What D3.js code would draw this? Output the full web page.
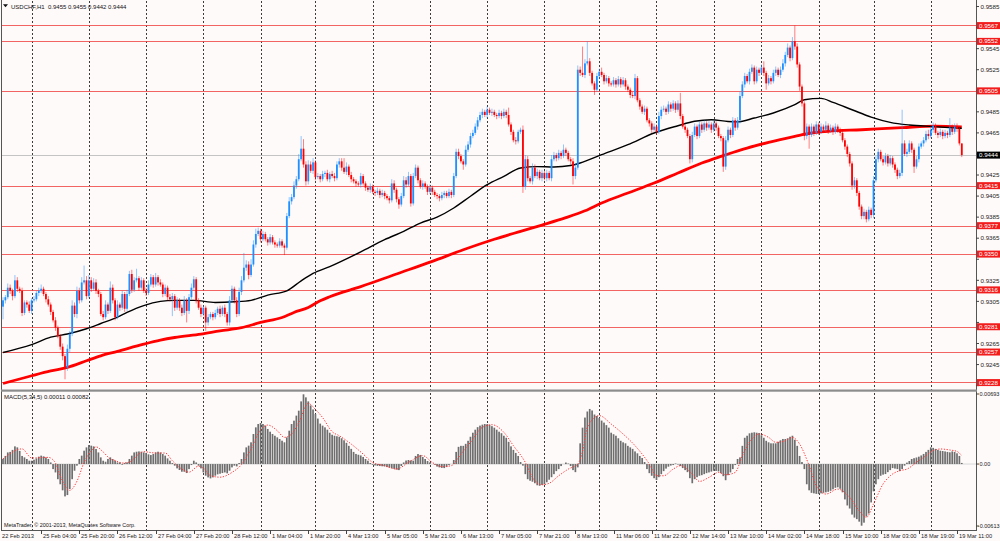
<!DOCTYPE html>
<html><head><meta charset="utf-8">
<script src="https://cdn.jsdelivr.net/npm/d3@7"></script>
<style>html,body{margin:0;padding:0;background:#FFFAFA;} svg{display:block} text{white-space:pre}</style>
</head><body><svg id="c" width="1000" height="541"></svg>
<script>
// ---------- DATA (prices in pips above 0.9000) ----------
const symbolTitle = "USDCHF,H1  0.9455 0.9455 0.9442 0.9444";
const macdTitle = "MACD(5,34,5) 0.00011 0.00082";
const copyright = "MetaTrader, \u00A9 2001-2013, MetaQuotes Software Corp.";
const firstOpen = 300;
const closes = [
306,309,318,315,310,325,317,315,294,304,302,296,306,307,313,315,317,312,307,302,
295,287,280,272,262,253,242,260,274,301,293,315,306,323,325,310,325,317,323,315,
312,293,290,302,296,318,306,290,302,299,312,298,312,331,316,325,327,318,325,315,
313,321,328,321,328,323,321,312,318,309,307,310,299,306,299,294,306,296,309,318,
326,306,299,293,299,285,290,293,290,294,298,293,299,293,285,306,317,306,293,314,
325,337,340,330,340,359,369,372,364,369,364,361,366,361,359,358,362,358,356,386,
400,404,415,421,440,450,435,419,435,429,437,423,424,421,426,427,421,426,424,422,
435,438,432,428,433,425,421,419,417,416,424,417,413,411,414,409,408,410,406,408,
405,403,401,417,411,402,397,405,420,416,424,398,424,432,420,414,417,414,409,413,
409,406,405,403,406,408,405,409,406,424,447,443,438,435,449,454,462,465,471,477,
482,485,482,487,484,485,482,481,484,481,485,482,473,466,458,457,466,468,414,440,
422,419,432,424,428,422,427,422,427,422,440,444,441,446,443,449,446,440,438,424,
432,525,522,520,531,533,522,512,506,519,523,520,514,517,512,511,515,511,516,511,
515,509,506,501,500,517,496,490,485,488,477,474,468,471,466,481,487,488,485,492,
488,493,487,493,481,471,468,462,440,463,471,462,473,468,474,470,473,468,474,470,
462,460,433,458,468,463,477,470,477,500,511,519,514,523,527,514,525,522,527,522,
512,517,514,522,525,520,525,531,539,546,536,552,547,530,509,493,462,471,463,471,
465,473,466,471,468,472,467,470,466,471,468,465,458,452,445,436,415,420,408,395,
386,390,383,392,387,420,440,447,440,437,443,436,441,435,430,424,427,455,445,447,
455,449,433,440,452,455,458,464,462,468,472,465,463,466,462,465,463,470,466,471,
469,455,444];
const upWick = [
3,2,4,3,2,5,3,2,3,2,2,3,2,3,2,3,4,2,2,3,
2,2,3,2,2,3,2,4,3,5,3,4,3,5,14,4,5,3,4,3,
2,2,3,4,2,6,3,2,4,2,3,2,4,3,4,3,9,2,3,2,
3,4,3,2,4,2,3,2,3,2,3,3,2,3,2,3,4,2,3,4,
3,2,2,3,2,2,3,2,2,3,2,3,2,3,2,4,3,2,3,4,
4,14,4,3,5,4,5,3,2,3,2,2,3,2,2,2,3,2,2,3,
4,3,4,3,5,12,9,3,4,3,4,2,3,2,3,2,3,2,3,3,
3,3,3,9,4,2,3,2,2,2,3,2,2,2,3,2,2,3,2,3,
2,2,2,4,3,2,2,3,4,3,4,2,3,3,2,2,3,2,2,3,
2,2,2,2,3,2,2,3,2,3,3,3,2,2,4,3,3,3,3,3,
3,3,2,3,2,3,2,2,3,2,3,2,7,2,2,3,2,2,4,4,
3,2,4,3,3,2,3,2,3,2,4,3,2,3,2,5,2,2,2,3,
4,4,3,25,4,19,3,2,2,3,3,4,2,3,2,2,3,2,3,2,
3,2,2,2,3,4,2,2,2,3,2,2,2,3,2,4,3,3,2,3,
2,3,2,3,10,2,2,2,2,3,3,2,3,2,3,2,3,2,3,2,
2,2,2,4,3,2,3,2,3,4,3,3,2,3,3,2,3,2,3,6,
2,3,2,3,3,2,3,4,3,4,2,4,15,3,2,2,2,3,2,3,
2,3,2,3,2,4,2,3,2,3,2,2,2,2,2,2,2,3,2,2,
2,3,2,3,2,4,3,3,2,3,3,2,3,2,2,2,3,32,3,3,
3,2,2,3,3,2,3,3,4,3,3,2,2,3,2,3,2,9,3,3,
3,2,0];
const dnWick = [
12,3,2,3,4,2,3,2,3,2,3,2,3,2,2,3,2,2,3,2,
3,2,3,2,3,4,11,3,3,2,3,4,3,2,2,3,2,3,2,3,
3,2,3,2,3,2,3,3,2,3,2,3,2,2,3,2,2,3,2,2,
3,2,2,3,2,3,2,3,2,3,2,16,3,2,3,3,2,11,3,2,
2,3,2,3,2,8,3,2,3,2,2,3,2,3,3,3,2,3,3,2,
3,2,3,4,2,2,3,2,3,2,2,3,2,2,3,2,2,2,7,2,
2,3,2,3,2,2,3,4,3,2,3,3,2,3,2,3,2,3,2,3,
2,3,3,2,3,2,3,2,3,2,3,2,3,2,3,2,3,2,3,2,
3,2,3,2,3,3,4,2,2,3,2,3,2,2,3,2,3,2,3,2,
3,2,3,3,2,3,2,2,3,2,2,3,2,5,2,2,3,2,2,3,
2,3,2,3,2,3,2,3,2,3,2,3,2,3,2,3,2,2,6,3,
3,2,3,2,3,2,3,2,3,2,3,2,3,2,3,2,3,2,3,8,
3,2,3,2,3,2,3,2,5,2,3,2,3,2,3,2,2,3,2,3,
2,3,2,3,2,3,2,3,2,3,2,3,3,2,3,2,3,2,3,2,
3,2,3,2,3,2,3,2,4,3,2,3,2,3,2,3,2,3,2,3,
2,3,5,3,2,3,2,3,2,3,2,3,2,3,2,3,2,3,2,3,
6,2,3,2,3,2,3,2,3,2,3,2,3,3,4,3,4,3,13,2,
3,2,3,2,3,2,3,2,3,2,3,3,2,3,3,3,4,3,3,3,
3,3,3,2,3,3,2,3,2,3,2,3,2,3,3,3,2,3,2,3,
2,3,6,2,3,2,3,2,3,2,3,2,3,2,3,2,3,2,3,2,
3,2,2];
// moving averages: [bar, pips]
const blackMA = [[0,256.5],[12,264],[20,271],[27,274],[35,279],[41,284],[48,290],[52,294.5],[59,301],[66,305],[72,306],[80,306],[89,304],[97,304.6],[104,306],[111,311],[119,315],[125,324.5],[130,331.5],[137,338],[150,352],[160,363.6],[168,371.5],[175,379.4],[182,385],[189,393.7],[196,404.8],[203,415.8],[210,423.7],[217,431.7],[224,433],[231,432.6],[238,434],[242,436.4],[251,444.3],[262,453.8],[273,464.9],[283,471.8],[290,476],[297,477.5],[304,475.8],[308,475.5],[315,479.1],[323,483.9],[332,491.8],[336,496.5],[343,497.8],[348,494],[356,487],[364,480],[372,475],[380,472.5],[390,471],[402,469.3]];
const redMA = [[0,227],[12,234.4],[20,239],[27,242.3],[35,248.6],[41,253.3],[48,257.5],[59,264.4],[66,268.2],[72,270.7],[83,274],[91,277],[100,280],[108,285],[117,289.7],[122,294.5],[128,299.2],[133,305.6],[137,309.4],[150,319],[165,331],[180,343],[193,354],[206,364],[217,371.5],[226,377.5],[236,384.5],[244,391],[251,398.4],[262,407.9],[273,417.4],[283,426.9],[293,436.4],[301,442.7],[306,446.4],[312,450.6],[321,456],[332,461.7],[339,465],[346,466.5],[360,468],[377,470],[391,471.5],[402,470.8]];
// MACD main (histogram) in units of 0.0001
const macdHist = [
5,8,11.5,12,14,17.5,16.5,13,8,6.6,5,3.3,3.3,4.3,5.6,7.3,8.3,7.6,6.6,5,
1.6,-5,-8.3,-15,-20,-26,-32,-30.7,-24.7,-15,-6.6,-1.6,5,8.3,13.2,16.5,18.8,18.2,17.5,14.9,
11.5,6.6,3.3,2.3,5,6.6,5,3.3,1.6,1.6,-0.7,1,1.6,5,8.3,11.5,12.2,12.5,12.2,11.5,
10.9,9.6,8.9,9.9,11.5,12.2,11.5,9.9,8.3,5.6,3.3,1,-1.6,-4.3,-5.9,-7.6,-7.6,-8.9,-5,-1,
3.3,1.6,-1.6,-4.3,-8.3,-11.5,-13.2,-14.2,-13.2,-11.5,-10.2,-9.6,-8.9,-8.3,-9.2,-6.6,-3.3,-1.6,-2.3,1,
5,11.5,16.5,18.2,21.5,29.7,36.3,39.6,40.6,39.6,38,34.7,32,29.7,28,26.4,24.8,23.1,21.5,26.4,
33,39.6,42.9,47.9,52.8,62,69,66,62,58,54,49.5,45,40,38,36.3,34,31,29,28,
27.5,27,25.5,23.5,21,18,15,12,10,9.2,8.5,7,5,3.3,1,-0.7,-1.4,-1.8,-2,-2.2,
-2.4,-3,-3.5,-4,-4.8,-5.5,-6,-2,1.6,3.5,4,3.6,3.3,8,9.9,9,7,5,3,1.6,
0,-0.7,-2.5,-3.3,-3.8,-4,-3,-1,0,4,12,17,18,18,20,23,27,31,34,36.5,
38,39,39.6,39.5,38.9,37.5,36,34,32,30.5,28,26,22,17.5,14,11,8,2,-1.6,-10,
-15,-16.5,-17.5,-19,-21,-21.5,-20.7,-20,-18,-15.5,-13,-10,-7,-5,-2,0,1.5,0.5,-2,-6,
-8,-3.3,20.5,36,46,52,54.5,53,49,47.5,45.5,43,41,38.5,36,31,29.5,28,25.5,23,
21.5,20.5,18,16.5,15,12.5,10.6,8,6,2,-5,-9,-11.6,-14,-15.8,-13,-10,-7,-4.5,-2.6,
-1.5,-1,0.5,-0.5,-2,-4,-6,-8,-14,-19,-15,-13,-11.6,-11,-10,-9,-8.3,-7.5,-6.6,-6.8,
-7.3,-9,-12,-16,-11,-8.3,-5,-1,5,6.6,18,26,28,30.4,31,31.4,31,30.7,28.5,26,
23,21.5,20.5,20.5,20.5,22,23.5,24.8,24.8,25.5,27,28,24,18,8,2,-5,-20,-26,-28.5,
-29,-29.5,-29.7,-29,-28.5,-28,-27.5,-26.5,-25,-23.5,-23,-24.5,-28,-35,-41,-44,-50,-53,-54.5,-57,
-61,-58,-52,-49,-38,-27,-20,-15,-11.6,-10.5,-9.9,-8,-6,-4,-4.5,-5,-7,-5,-1.6,1.4,
3,5,5.8,6.5,7.3,8.5,10,12,14,16.5,16,15,14,13.2,12.9,12.5,12,11.6,12.5,12,
10.6,8,1.1];
// MACD signal read at [bar, value*1e4]
const macdSignal = [[0,5],[8,15],[12,6],[19,6.6],[22,1],[24,-11.6],[28,-26],[31,-17],[34,1.6],[37,13],[39,17],[42,12],[45,5],[47,3.5],[50,1],[53,2],[57,9.9],[59,12.2],[64,10.9],[68,10.9],[71,3.3],[75,-5],[78,-8],[82,-2],[84,-4],[87,-11.5],[91,-13],[96,-8.3],[100,-0.5],[104,14.9],[108,34],[111,38.6],[115,33],[118,26.4],[121,29.7],[124,41],[128,60],[131,54],[134,46],[138,32],[141,28],[146,19.8],[151,9.9],[155,1.6],[160,-1.6],[165,-5],[170,1.6],[176,8.3],[180,1.6],[184,-2.6],[188,-1.6],[192,9.9],[196,21.5],[201,36.3],[205,38.9],[210,31.4],[214,18.2],[219,1.6],[222,-13.2],[226,-20.5],[229,-19],[233,-11.6],[237,-5],[241,0],[243,12.5],[245,36.3],[250,47.9],[255,39.6],[260,29.7],[265,18.2],[271,0],[274,-11.6],[277,-11.6],[281,-5],[284,-1.6],[289,-9.9],[292,-17.2],[296,-13.2],[300,-8.3],[303,-10.6],[307,-8.3],[310,8.3],[314,24.8],[317,29.7],[321,26.4],[324,21.5],[328,23],[331,26.4],[334,19.8],[338,-1.6],[341,-21.5],[345,-29.7],[350,-24.8],[355,-33],[359,-46.2],[362,-52.8],[365,-39.6],[369,-19.8],[372,-11.6],[376,-6.6],[379,-5],[383,1.6],[386,6.6],[390,13.2],[393,14.9],[397,13.9],[400,12.5],[402,8.2]];
const levels = [567,552,505,415,377,350,316,281,257,228];
const currentPrice = 444;
const priceTicks = ["0.9585","0.9565","0.9545","0.9525","0.9505","0.9485","0.9465","0.9445","0.9425","0.9405","0.9385","0.9365","0.9345","0.9325","0.9305","0.9285","0.9265","0.9245","0.9225"];
const macdTicks = [["0.00693",0.00693],["0.00",0],["-0.00613",-0.00613]];
const dateLabels = ["22 Feb 2013","25 Feb 04:00","25 Feb 20:00","26 Feb 12:00","27 Feb 04:00","27 Feb 20:00","28 Feb 12:00","1 Mar 04:00","1 Mar 20:00","4 Mar 13:00","5 Mar 05:00","5 Mar 21:00","6 Mar 13:00","7 Mar 05:00","7 Mar 21:00","8 Mar 13:00","11 Mar 06:00","11 Mar 22:00","12 Mar 14:00","13 Mar 10:00","14 Mar 02:00","14 Mar 18:00","15 Mar 10:00","18 Mar 03:00","18 Mar 19:00","19 Mar 11:00"];
const labelEvery = 16;
const gridBars = [12,36,60,84,108,131,155,179,203,227,250,274,298,318,342,365,389];

// ---------- DRAW ----------
const FONT = "'Liberation Sans', Arial, sans-serif";
const svg = d3.select("#c");
const pip = v => 0.9 + v/10000;
const x = d3.scaleLinear().domain([0,400]).range([3,957]);
const y = d3.scaleLinear().domain([0.92218,0.95893]).range([389,2]);
const yM = d3.scaleLinear().domain([-0.00613,0.00693]).range([526,394]);
const AX = 976, BOT = 530;

svg.append("rect").attr("width",1000).attr("height",541).attr("fill","#FFFAFA");
const defs = svg.append("defs");
defs.append("clipPath").attr("id","cm").append("rect").attr("x",2).attr("y",1).attr("width",AX-2).attr("height",388);
defs.append("clipPath").attr("id","cd").append("rect").attr("x",2).attr("y",392).attr("width",AX-2).attr("height",BOT-392);

// vertical grid
svg.append("g").selectAll("line").data(gridBars).join("line")
  .attr("x1",d=>Math.round(x(d))+0.5).attr("x2",d=>Math.round(x(d))+0.5)
  .attr("y1",1).attr("y2",BOT)
  .attr("stroke","#3c3c3c").attr("stroke-width",1).attr("stroke-dasharray","2,2");

const main = svg.append("g").attr("clip-path","url(#cm)");
// levels
main.selectAll("line.lv").data(levels).join("line").attr("class","lv")
  .attr("x1",2).attr("x2",AX).attr("y1",d=>Math.round(y(pip(d)))+0.5).attr("y2",d=>Math.round(y(pip(d)))+0.5)
  .attr("stroke","#f04a4a").attr("stroke-width",1).attr("opacity",0.85);
main.append("line").attr("x1",2).attr("x2",AX)
  .attr("y1",Math.round(y(pip(currentPrice)))+0.5).attr("y2",Math.round(y(pip(currentPrice)))+0.5)
  .attr("stroke","#c4c4c4").attr("stroke-width",1);

// MAs
const maLine = d3.line().x(d=>x(d[0])).y(d=>y(pip(d[1]))).curve(d3.curveMonotoneX);
main.append("path").attr("d",maLine(redMA)).attr("fill","none").attr("stroke","#ff0000").attr("stroke-width",2.8);
main.append("path").attr("d",maLine(blackMA)).attr("fill","none").attr("stroke","#000").attr("stroke-width",1.4);

// candles
const candles = closes.map((c,i)=>{const o = i===0?firstOpen:closes[i-1];
  return {i,o,c,h:Math.max(o,c)+upWick[i],l:Math.min(o,c)-dnWick[i],up:c>o};});
const cg = main.append("g");
cg.selectAll("line").data(candles).join("line")
  .attr("x1",d=>x(d.i)).attr("x2",d=>x(d.i))
  .attr("y1",d=>y(pip(d.h))).attr("y2",d=>y(pip(d.l)))
  .attr("stroke",d=>d.up?"#1E90FF":"#FF0000").attr("stroke-width",0.9).attr("opacity",0.55);
cg.selectAll("rect").data(candles).join("rect")
  .attr("x",d=>x(d.i)-0.9).attr("width",1.8)
  .attr("y",d=>y(pip(Math.max(d.o,d.c))))
  .attr("height",d=>Math.max(0.8,Math.abs(y(pip(d.o))-y(pip(d.c)))))
  .attr("fill",d=>d.up?"#1E90FF":"#FF0000");

// MACD
const md = svg.append("g").attr("clip-path","url(#cd)");
md.append("line").attr("x1",2).attr("x2",AX).attr("y1",yM(0)).attr("y2",yM(0)).attr("stroke","#d8d8d8");
md.selectAll("rect").data(macdHist).join("rect")
  .attr("x",(d,i)=>x(i)-0.85).attr("width",1.7)
  .attr("y",d=>yM(Math.max(0,d/10000))).attr("height",d=>Math.abs(yM(d/10000)-yM(0)))
  .attr("fill","#6e6e6e");
const sigLine = d3.line().x(d=>x(d[0])).y(d=>yM(d[1]/10000)).curve(d3.curveMonotoneX);
md.append("path").attr("d",sigLine(macdSignal)).attr("fill","none").attr("stroke","#ff3a3a")
  .attr("stroke-width",1).attr("stroke-dasharray","1.3,1.5");

// frame
svg.append("line").attr("x1",1.5).attr("x2",1.5).attr("y1",0).attr("y2",BOT).attr("stroke","#555");
svg.append("line").attr("x1",AX+0.5).attr("x2",AX+0.5).attr("y1",0).attr("y2",BOT+1).attr("stroke","#555");
svg.append("rect").attr("x",1).attr("y",389.5).attr("width",AX).attr("height",2.2).attr("fill","#8c8c8c");
svg.append("line").attr("x1",1).attr("x2",AX+1).attr("y1",BOT+0.5).attr("y2",BOT+0.5).attr("stroke","#555");

// price axis
const pa = svg.append("g").attr("font-family",FONT).attr("font-size",6.2).attr("fill","#222");
const boxYs = levels.map(v=>y(pip(v))).concat([y(pip(currentPrice))]);
priceTicks.forEach(t=>{const yy=y(+t);
  pa.append("line").attr("x1",AX).attr("x2",AX+3).attr("y1",yy).attr("y2",yy).attr("stroke","#444");
  if (boxYs.some(b=>Math.abs(b-yy)<6.5)) return; // hidden behind a level label
  pa.append("text").attr("x",980.5).attr("y",yy+2.2).text(t);});
levels.forEach(v=>{const yy=y(pip(v));
  pa.append("rect").attr("x",977).attr("y",yy-3.4).attr("width",23).attr("height",7).attr("fill","#f21c1c");
  pa.append("text").attr("x",979).attr("y",yy+2.2).attr("fill","#fff").text(pip(v).toFixed(4));});
{const yy=y(pip(currentPrice));
  pa.append("rect").attr("x",977).attr("y",yy-3.4).attr("width",23).attr("height",7).attr("fill","#000");
  pa.append("text").attr("x",979).attr("y",yy+2.2).attr("fill","#fff").text(pip(currentPrice).toFixed(4));}
macdTicks.forEach(([t,v])=>{const yy=yM(v);
  pa.append("line").attr("x1",AX).attr("x2",AX+3).attr("y1",yy).attr("y2",yy).attr("stroke","#444");
  pa.append("text").attr("x",t[0]==="-"?977.8:979.5).attr("y",yy+2.2).attr("font-size",5.5).text(t);});

// time axis
const ta = svg.append("g").attr("font-family",FONT).attr("font-size",5.7).attr("fill","#222");
dateLabels.forEach((t,k)=>{const xx=Math.round(x(k*labelEvery))+0.5;
  if(k>0) ta.append("line").attr("x1",xx).attr("x2",xx).attr("y1",BOT).attr("y2",BOT+4).attr("stroke","#444");
  ta.append("text").attr("x",k===0?2:xx+1.5).attr("y",538).text(t);});

// titles
const tg = svg.append("g").attr("font-family",FONT).attr("fill","#111");
tg.append("path").attr("d","M3,4.2 L8,4.2 L5.5,7.2 Z").attr("fill","#111");
tg.append("text").attr("x",11).attr("y",8.6).attr("font-size",6).text(symbolTitle);
tg.append("text").attr("x",4).attr("y",398.6).attr("font-size",6).text(macdTitle);
tg.append("text").attr("x",4).attr("y",527).attr("font-size",5.4).text(copyright);

const n=closes.length;
if(n!==403||upWick.length!==n||dnWick.length!==n||macdHist.length!==n)
  setTimeout(()=>{throw new Error("len "+n+" "+upWick.length+" "+dnWick.length+" "+macdHist.length);},0);
</script></body></html>
